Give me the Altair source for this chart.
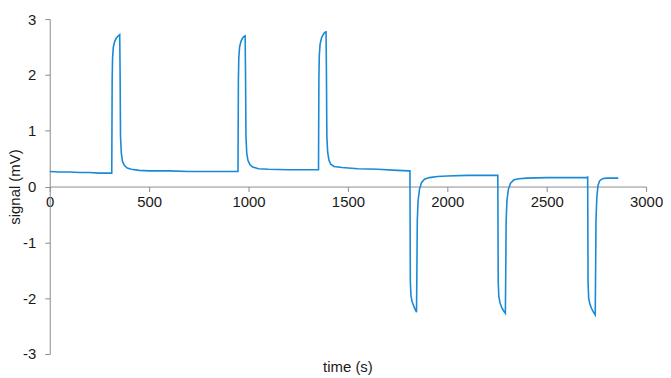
import altair as alt
import pandas as pd

time_s = [
    0, 50, 100, 150, 200, 250, 300, 312,
    314, 316, 320, 327, 335, 345, 352, 354, 356, 360, 366, 375, 390, 410, 450, 500, 600, 700, 800, 900, 945,
    947, 949, 951, 955, 962, 970, 978, 983, 985, 987, 991, 997, 1006, 1020, 1050, 1100, 1200, 1300, 1350,
    1352, 1354, 1356, 1360, 1367, 1375, 1383, 1390, 1392, 1394, 1398, 1404, 1413, 1430, 1470, 1550, 1650, 1750, 1808,
    1812, 1814, 1817, 1822, 1830, 1838, 1845, 1847, 1849, 1853, 1860, 1870, 1885, 1910, 1950, 2000, 2100, 2200, 2250,
    2254, 2256, 2259, 2265, 2273, 2282, 2292, 2294, 2296, 2300, 2307, 2318, 2335, 2360, 2400, 2500, 2600, 2700,
    2706, 2708, 2711, 2717, 2725, 2735, 2744, 2746, 2748, 2752, 2758, 2766, 2780, 2800, 2830, 2860,
]
signal_mv = [
    0.27, 0.26, 0.26, 0.25, 0.25, 0.24, 0.24, 0.24,
    1.9, 2.3, 2.5, 2.6, 2.66, 2.7, 2.72, 2.0, 0.9, 0.6, 0.45, 0.38, 0.33, 0.31, 0.29, 0.28, 0.28, 0.27, 0.27, 0.27, 0.27,
    0.27, 1.9, 2.3, 2.5, 2.6, 2.66, 2.69, 2.7, 2.0, 0.9, 0.6, 0.47, 0.4, 0.35, 0.32, 0.31, 0.3, 0.3, 0.3,
    0.3, 1.95, 2.35, 2.55, 2.66, 2.72, 2.76, 2.77, 2.0, 0.9, 0.62, 0.48, 0.4, 0.36, 0.34, 0.32, 0.31, 0.29, 0.28,
    0.28, -1.7, -1.95, -2.05, -2.13, -2.2, -2.25, -1.5, -0.6, -0.25, -0.05, 0.07, 0.13, 0.16, 0.18, 0.19, 0.2, 0.2, 0.2,
    0.2, -1.7, -1.97, -2.08, -2.16, -2.22, -2.27, -1.5, -0.6, -0.25, -0.05, 0.06, 0.12, 0.14, 0.15, 0.16, 0.16, 0.16,
    0.17, -1.7, -2.0, -2.1, -2.18, -2.25, -2.3, -1.5, -0.6, -0.2, 0.02, 0.1, 0.14, 0.15, 0.15, 0.15,
]

df = pd.DataFrame({"t": time_s, "v": signal_mv, "i": list(range(len(time_s)))})

axis_common = dict(
    grid=False,
    domainColor="#8c8c8c",
    tickColor="#8c8c8c",
    tickSize=5,
    labelFlush=False,
    labelOverlap=False,
    labelFont="Liberation Sans",
    labelFontSize=15,
    labelColor="#1a1a1a",
    titleFont="Liberation Sans",
    titleFontSize=15,
    titleFontWeight="normal",
    titleColor="#1a1a1a",
    labelExpr="toString(datum.value)",
)

H = 337
chart = (
    alt.Chart(df)
    .mark_line(color="#1a8ad6", strokeWidth=1.6)
    .encode(
        x=alt.X(
            "t:Q",
            scale=alt.Scale(domain=[0, 3000], nice=False),
            axis=alt.Axis(values=[0, 500, 1000, 1500, 2000, 2500, 3000], offset=-H / 2, title=None, labelPadding=3, **axis_common),
        ),
        y=alt.Y(
            "v:Q",
            scale=alt.Scale(domain=[-3, 3], nice=False),
            axis=alt.Axis(values=[-3, -2, -1, 0, 1, 2, 3], title="signal (mV)", titlePadding=0, labelPadding=9, **axis_common),
        ),
        order="i:Q",
    )
    .properties(
        width=600,
        height=H,
        autosize="none",
        padding={"left": 42, "top": 10, "right": 17, "bottom": 22},
        title=alt.TitleParams(
            text="time (s)", orient="bottom", font="Liberation Sans", fontSize=15,
            fontWeight="normal", color="#1a1a1a", offset=-2,
        ),
    )
    .configure_view(stroke=None)
)

chart.save("out.html", embed_options={"renderer": "svg", "actions": False})
